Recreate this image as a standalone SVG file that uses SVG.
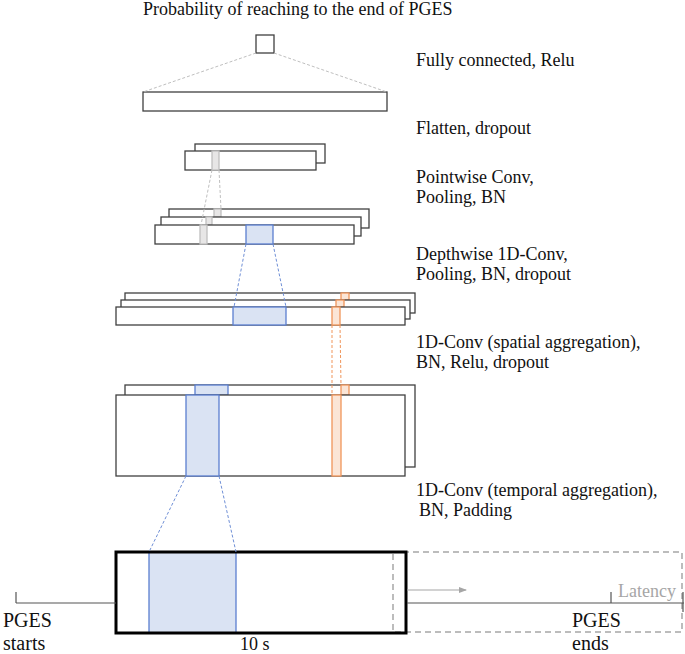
<svg xmlns="http://www.w3.org/2000/svg" width="685" height="654" viewBox="0 0 685 654">
<style>
text{font-family:"Liberation Serif","Times New Roman",serif;font-size:18px;fill:#111}
.big{font-size:20px}
.lay{fill:#fff;stroke:#404040;stroke-width:1.3}
.gs{fill:#e7e6e6;stroke:#bfbfbf;stroke-width:1.3}
.bs{fill:#dae3f3;stroke:#5b7fd0;stroke-width:1.3}
.os{fill:#fbe5d6;stroke:#f0955a;stroke-width:1.3}
.dg{stroke:#bfbfbf;stroke-width:1;stroke-dasharray:3 2;fill:none}
.db{stroke:#6f8fd6;stroke-width:1;stroke-dasharray:3 2;fill:none}
.do{stroke:#f0955a;stroke-width:1;stroke-dasharray:3 2;fill:none}
.axis{stroke:#555;stroke-width:1.2;fill:none}
</style>
<defs>
<marker id="ah" markerWidth="8" markerHeight="8" refX="7" refY="4" orient="auto" markerUnits="userSpaceOnUse">
<path d="M0,1 L8,4 L0,7 z" fill="#a6a6a6"/>
</marker>
</defs>
<rect width="685" height="654" fill="#fff"/>

<g id="output">
<rect class="lay" x="256" y="35" width="18" height="18"/>
<text x="143" y="15">Probability of reaching to the end of PGES</text>
</g>
<g id="dense">
<rect class="lay" x="143" y="92" width="244" height="19"/>
<text x="416" y="66">Fully connected, Relu</text>
</g>
<g id="flatten">
<rect class="lay" x="195" y="144" width="130" height="19"/>
<rect class="lay" x="185" y="151" width="131" height="19"/>
<rect class="gs" x="212" y="151" width="7" height="19"/>
<text x="416" y="134">Flatten, dropout</text>
</g>
<g id="pointwise">
<rect class="lay" x="169" y="209" width="200" height="19"/>
<rect class="gs" x="214" y="209" width="7" height="8"/>
<rect class="lay" x="161" y="217" width="200" height="19"/>
<rect class="gs" x="206" y="217" width="6" height="8"/>
<rect class="lay" x="155" y="225" width="199" height="19"/>
<rect class="gs" x="200" y="225" width="7" height="19"/>
<rect class="bs" x="246" y="225" width="27" height="19"/>
<text x="416" y="183">Pointwise Conv,</text>
<text x="416" y="203">Pooling, BN</text>
</g>
<g id="depthwise">
<rect class="lay" x="125" y="293" width="290" height="20"/>
<rect class="os" x="341" y="293" width="8" height="7"/>
<rect class="lay" x="121" y="300" width="289" height="19"/>
<rect class="os" x="336" y="300" width="8" height="7"/>
<rect class="lay" x="116" y="307" width="289" height="18"/>
<rect class="bs" x="233" y="307" width="53" height="18"/>
<rect class="os" x="332" y="307" width="8" height="18"/>
<text x="416" y="260">Depthwise 1D-Conv,</text>
<text x="416" y="280">Pooling, BN, dropout</text>
</g>
<g id="spatial">
<rect class="lay" x="125" y="385" width="290" height="82"/>
<rect class="bs" x="195" y="385" width="33" height="10"/>
<rect class="os" x="341" y="385" width="8" height="10"/>
<rect class="lay" x="116" y="395" width="289" height="81"/>
<rect class="bs" x="186" y="395" width="33" height="81"/>
<rect class="os" x="332" y="395" width="9" height="81"/>
<text x="416" y="348">1D-Conv (spatial aggregation),</text>
<text x="416" y="368">BN, Relu, dropout</text>
</g>
<g id="input">
<rect x="116" y="552" width="290" height="81" fill="#fff"/>
<rect x="393" y="552" width="289" height="80" fill="none" stroke="#a6a6a6" stroke-width="1.5" stroke-dasharray="6 4"/>
<rect class="bs" x="149" y="552" width="87" height="81"/>
<rect x="116" y="552" width="290" height="81" fill="none" stroke="#000" stroke-width="3"/>
<text x="240" y="650">10 s</text>
<text x="416" y="496">1D-Conv (temporal aggregation),</text>
<text x="419" y="516">BN, Padding</text>
</g>
<g id="timeline">
<line class="axis" x1="16" y1="603" x2="116" y2="603"/>
<line class="axis" x1="16" y1="592" x2="16" y2="603"/>
<line class="axis" x1="407" y1="603" x2="684" y2="603"/>
<line class="axis" x1="611" y1="592" x2="611" y2="603"/>
<line class="axis" x1="683" y1="592" x2="683" y2="612"/>
<line x1="407" y1="590" x2="466" y2="590" stroke="#a6a6a6" stroke-width="1.2" marker-end="url(#ah)"/>
<text x="618" y="597" style="fill:#a6a6a6">Latency</text>
<text class="big" x="3" y="627">PGES</text>
<text class="big" x="3" y="650">starts</text>
<text class="big" x="572" y="627">PGES</text>
<text class="big" x="572" y="650">ends</text>
</g>
<g id="connectors">
<line class="dg" x1="256" y1="53" x2="143" y2="92"/>
<line class="dg" x1="274" y1="53" x2="387" y2="92"/>
<line class="dg" x1="212" y1="170" x2="201" y2="225"/>
<line class="dg" x1="219" y1="170" x2="221" y2="209"/>
<line class="db" x1="246" y1="244" x2="234" y2="307"/>
<line class="db" x1="273" y1="244" x2="286" y2="307"/>
<line class="do" x1="332" y1="325" x2="332" y2="395"/>
<line class="do" x1="340" y1="325" x2="341" y2="385"/>
<line class="db" x1="186" y1="476" x2="149" y2="552"/>
<line class="db" x1="219" y1="476" x2="236" y2="552"/>
</g>
</svg>
